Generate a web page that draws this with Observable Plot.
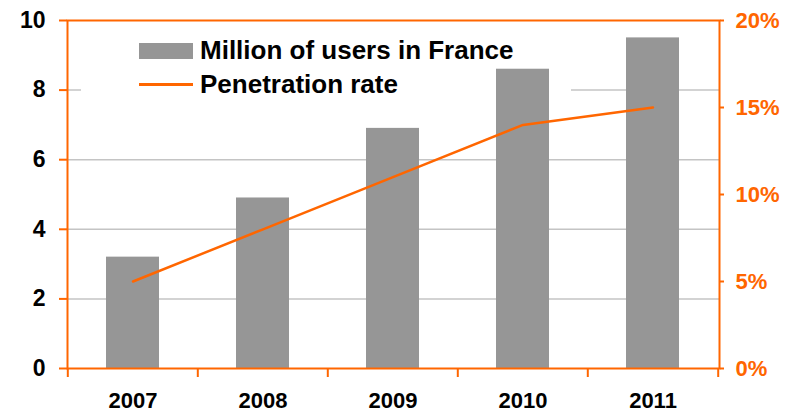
<!DOCTYPE html>
<html>
<head>
<meta charset="utf-8">
<script src="https://cdn.jsdelivr.net/npm/d3@7"></script>
<script src="https://cdn.jsdelivr.net/npm/@observablehq/plot@0.6"></script>
<style>
  html, body { margin: 0; padding: 0; background: #fff; }
  #wrap { position: relative; width: 789px; height: 414px; font-family: "Liberation Sans", Arial, sans-serif; }
  #legend { position: absolute; left: 81px; top: 22px; width: 490px; height: 74px; }
  .item { position: absolute; left: 58px; display: flex; align-items: center; font-weight: bold; font-size: 26px; color: #000; white-space: nowrap; }
  .sw { width: 54px; margin-right: 7px; }
</style>
</head>
<body>
<div id="wrap"></div>
<script>
const years = ["2007", "2008", "2009", "2010", "2011"];
const users = [3.2, 4.9, 6.9, 8.6, 9.5];          // million users
const rate = [5, 8, 11, 14, 15];                  // penetration rate, %
const usersTicks = [0, 2, 4, 6, 8, 10];
const rateTicks = [0, 5, 10, 15, 20];
const gridTicks = [2, 4, 6, 8];
const seriesNames = ["Million of users in France", "Penetration rate"];

const ORANGE = "#ff6600";
const GREY = "#969696";
const RATE_SCALE = 10 / 20; // right axis 0-20% maps on left axis 0-10

const data = years.map((y, i) => ({year: y, users: users[i], rate: rate[i]}));
const font = "Liberation Sans, Arial, sans-serif";

// white legend background, drawn under the bars (hides the grid line behind the legend)
const legendBackground = () => {
  const r = document.createElementNS("http://www.w3.org/2000/svg", "rect");
  r.setAttribute("x", 81); r.setAttribute("y", 22);
  r.setAttribute("width", 490); r.setAttribute("height", 74);
  r.setAttribute("fill", "#fff");
  return r;
};

const chart = Plot.plot({
  width: 789,
  height: 414,
  marginLeft: 67,
  marginRight: 70,
  marginTop: 20,
  marginBottom: 46,
  style: {background: "#fff", fontFamily: font},
  x: {domain: years, paddingInner: 0.59, paddingOuter: 0.295},
  y: {domain: [0, 10]},
  marks: [
    Plot.gridY(gridTicks, {stroke: "#c4c4c4", strokeOpacity: 1, strokeWidth: 1.5}),
    legendBackground,
    Plot.barY(data, {x: "year", y: "users", fill: GREY}),
    Plot.line(data, {x: "year", y: d => d.rate * RATE_SCALE, stroke: ORANGE, strokeWidth: 2.5}),
    Plot.frame({stroke: ORANGE, strokeWidth: 2}),
    Plot.axisY(usersTicks, {anchor: "left", tickSize: 8, tickPadding: 14, stroke: ORANGE, strokeWidth: 2, fill: "#000",
      fontSize: 23, fontWeight: "bold", fontFamily: font, label: null}),
    Plot.axisY(rateTicks.map(r => r * RATE_SCALE), {anchor: "right", tickSize: 4, tickPadding: 12, stroke: ORANGE, strokeWidth: 2,
      fill: ORANGE, fontSize: 22, fontWeight: "bold", fontFamily: font, label: null,
      tickFormat: d => `${Math.round(d / RATE_SCALE)}%`}),
    Plot.axisX(years, {anchor: "bottom", tickSize: 9, stroke: ORANGE, strokeWidth: 2, dx: -65.2, tickFormat: () => "", label: null}),
    Plot.axisX(years.slice(-1), {anchor: "bottom", tickSize: 9, stroke: ORANGE, strokeWidth: 2, dx: 65.2, tickFormat: () => "", label: null}),
    Plot.axisX(years, {anchor: "bottom", tickSize: 0, tickPadding: 24, fill: "#000", fontSize: 22, fontWeight: "bold", fontFamily: font, label: null})
  ]
});

const wrap = document.getElementById("wrap");
wrap.appendChild(chart);

const legend = document.createElement("div");
legend.id = "legend";
legend.innerHTML = `
  <div class="item" style="top:13px"><span class="sw" style="height:16px;background:${GREY}"></span>${seriesNames[0]}</div>
  <div class="item" style="top:47px"><span class="sw" style="height:2.5px;background:${ORANGE}"></span>${seriesNames[1]}</div>`;
wrap.appendChild(legend);
</script>
</body>
</html>
